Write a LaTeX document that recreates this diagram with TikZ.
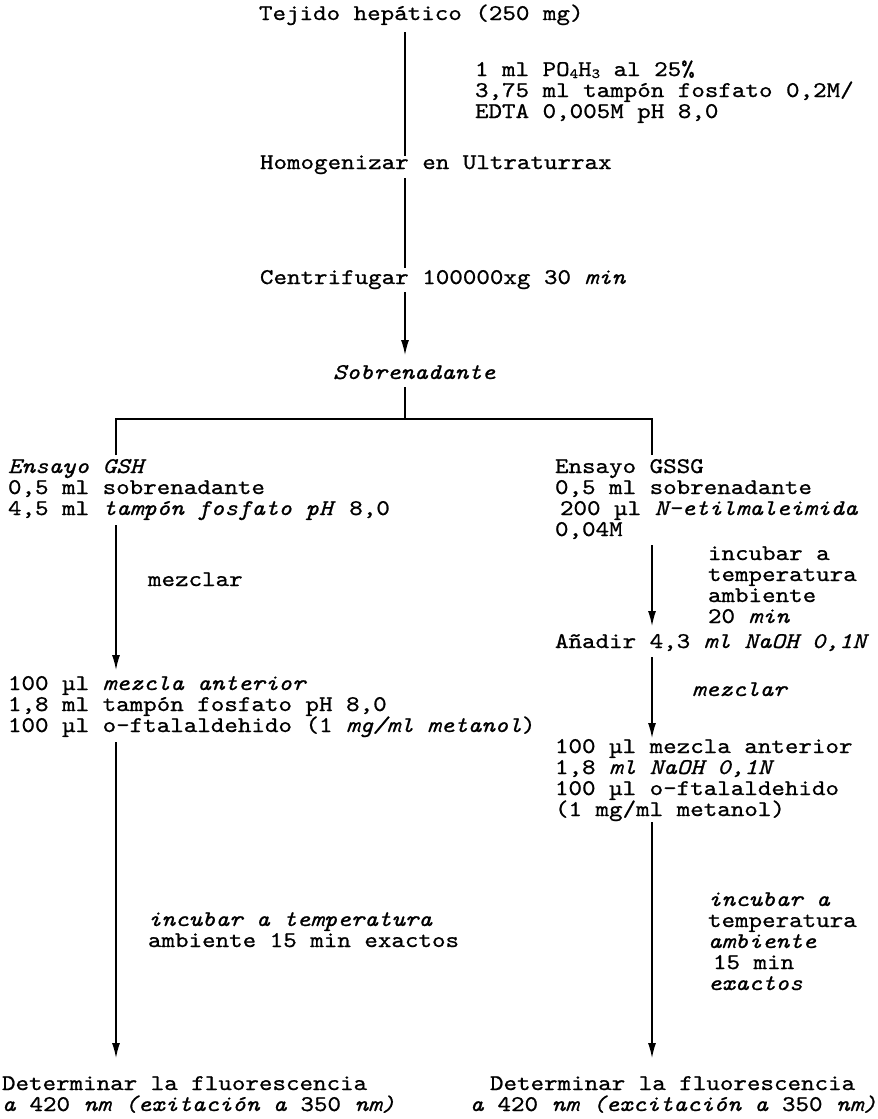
\documentclass[tikz,border=0pt]{standalone}
\usepackage{fontspec}
\setmonofont{lmmono10-regular.otf}[ItalicFont=lmmono10-italic.otf, FakeStretch=1.15, FakeBold=0.8]
\usetikzlibrary{arrows.meta}
% fixed first-line height and last-line depth so blocks line up
\newcommand{\firstl}{\rule{0pt}{18pt}}
\newcommand{\lastl}{\rule[-5pt]{0pt}{5pt}}
\newcommand{\typefont}{\ttfamily\fontsize{22.4}{21}\selectfont}
% small chemical subscript that stays clear of the next line
\newcommand{\chemsub}[1]{\raisebox{-2pt}{\fontsize{14}{14}\selectfont #1}}
\lineskiplimit=-50pt
\begin{document}
\begin{tikzpicture}[x=1pt,y=-1pt,
  txt/.style={inner sep=0pt, outer sep=0pt, anchor=north west, align=left, font=\typefont},
  wire/.style={line width=1.3pt},
  flow/.style={wire,-{Latex[length=15pt,width=8pt]}}]
\useasboundingbox[fill=white] (0,0) rectangle (878,1119);

% column guides
\coordinate (spine) at (405,0);
\coordinate (lcol) at (116,0);
\coordinate (rcol) at (652,0);
\coordinate (split) at (405,419);

% main trunk
\node[txt] (tejido) at (259,2) {\firstl Tejido hepático (250 mg)\lastl};
\node[txt] (reag) at (475,58) {\firstl 1 ml PO\chemsub{4}H\chemsub{3} al 25\%\\3,75 ml tampón fosfato 0,2M/\\EDTA 0,005M pH 8,0};
\node[txt] (homog) at (260,151) {\firstl Homogenizar en Ultraturrax\lastl};
\node[txt] (centrif) at (260,266) {\firstl Centrifugar 100000xg 30 \textit{min}\lastl};
\node[txt] (sobre) at (333,361) {\firstl\textit{Sobrenadante}\lastl};

% GSH branch
\node[txt] (gsh) at (8,455) {\firstl\textit{Ensayo GSH}\\0,5 ml sobrenadante\\4,5 ml \textit{tampón fosfato pH} 8,0\lastl};
\node[txt] (mezL) at (148,568) {\firstl mezclar};
\node[txt] (mixL) at (8,672) {\firstl 100 µl \textit{mezcla anterior}\\1,8 ml tampón fosfato pH 8,0\\100 µl o-ftalaldehido (1 \textit{mg/ml metanol})\lastl};
\node[txt] (incL) at (148,908) {\firstl\textit{incubar a temperatura}\\ambiente 15 min exactos};
\node[txt] (detL) at (2,1072) {\firstl Determinar la fluorescencia\\\textit{a} 420 \textit{nm (exitación a} 350 \textit{nm)}};

% GSSG branch
\node[txt] (gssg) at (555,455) {\firstl Ensayo GSSG\\0,5 ml sobrenadante\\\hspace*{5pt}200 µl \textit{N-etilmaleimida}\\0,04M\lastl};
\node[txt] (incR1) at (708,542) {\firstl incubar a\\temperatura\\ambiente\\20 \textit{min}};
\node[txt] (anadir) at (555,630) {\firstl Añadir 4,3 \textit{ml NaOH 0,1N}\lastl};
\node[txt] (mezR) at (692,678) {\firstl\textit{mezclar}};
\node[txt] (mixR) at (555,735) {\firstl 100 µl mezcla anterior\\1,8 \textit{ml NaOH 0,1N}\\100 µl o-ftalaldehido\\(1 mg/ml metanol)\lastl};
\node[txt] (incR2) at (708,888) {\firstl\textit{incubar a}\\temperatura\\\textit{ambiente}\\\hspace*{5pt}15 min\\\textit{exactos}};
\node[txt] (detR) at (470,1072) {\firstl\hspace*{20pt}Determinar la fluorescencia\\\textit{a} 420 \textit{nm (excitación a} 350 \textit{nm)}};

% connectors
\draw[wire, shorten <=7pt, shorten >=-5pt] (tejido.south -| spine) -- (homog.north -| spine);
\draw[wire, shorten <=4pt, shorten >=-2pt] (homog.south -| spine) -- (centrif.north -| spine);
\draw[flow, shorten <=3pt, shorten >=6pt] (centrif.south -| spine) -- (sobre.north -| spine);
\draw[wire, shorten <=3pt] (sobre.south -| spine) -- (split);
\draw[wire] (gsh.north -| lcol) |- (split) -| (gssg.north -| rcol);
\draw[flow, shorten <=5pt, shorten >=2pt] (gsh.south -| lcol) -- (mixL.north -| lcol);
\draw[flow, shorten <=5pt, shorten >=14pt] (mixL.south -| lcol) -- (detL.north -| lcol);
\draw[flow, shorten <=4pt, shorten >=4pt] (gssg.south -| rcol) -- (anadir.north -| rcol);
\draw[flow, shorten <=4pt, shorten >=-3pt] (anadir.south -| rcol) -- (mixR.north -| rcol);
\draw[flow, shorten <=1pt, shorten >=14pt] (mixR.south -| rcol) -- (detR.north -| rcol);
\end{tikzpicture}
\end{document}
